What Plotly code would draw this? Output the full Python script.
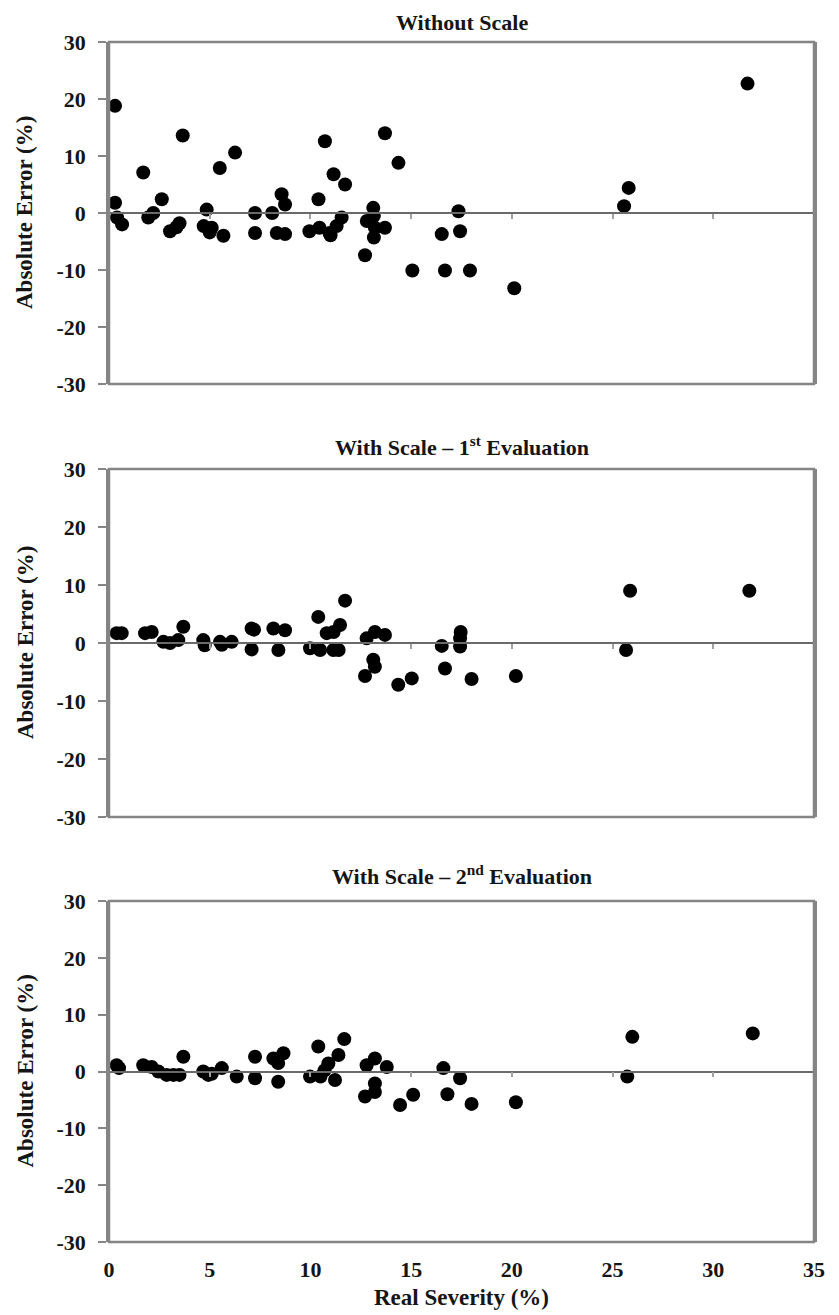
import plotly.graph_objects as go

# ---------------- data ----------------
panel_titles = ["Without Scale",
                "With Scale – 1<sup>st</sup> Evaluation",
                "With Scale – 2<sup>nd</sup> Evaluation"]
x_title = "Real Severity (%)"
y_title = "Absolute Error (%)"
y_ticks = [-30, -20, -10, 0, 10, 20, 30]
y_tick_labels = ["-30", "-20", "-10", "0", "10", "20", "30"]
x_ticks = [0, 5, 10, 15, 20, 25, 30, 35]
x_tick_labels = ["0", "5", "10", "15", "20", "25", "30", "35"]

# Without Scale
x_without = [0.3, 0.3, 0.4, 0.65, 1.7, 1.95, 2.2, 2.62, 3.03, 3.35, 3.5, 3.66,
             4.7, 4.85, 5.0, 5.1, 5.5, 5.68, 6.26, 7.25, 7.25, 8.1, 8.33, 8.57,
             8.74, 8.74, 9.95, 10.4, 10.45, 10.72, 10.95, 11.0, 11.15, 11.3, 11.55, 11.72,
             12.71, 12.8, 13.12, 13.15, 13.2, 13.15, 13.7, 13.7, 14.37, 15.06, 16.52, 16.68,
             17.35, 17.43, 17.92, 20.12, 25.57, 25.8, 31.7]
y_without = [18.8, 1.8, -0.8, -2.0, 7.1, -0.8, 0.0, 2.4, -3.2, -2.5, -1.8, 13.6,
             -2.3, 0.6, -3.4, -2.6, 7.9, -4.0, 10.6, 0.0, -3.5, 0.0, -3.5, 3.3,
             1.5, -3.7, -3.2, 2.4, -2.6, 12.6, -3.5, -3.9, 6.8, -2.3, -0.8, 5.0,
             -7.4, -1.4, 0.9, -0.5, -2.6, -4.3, 14.0, -2.6, 8.8, -10.1, -3.7, -10.1,
             0.3, -3.2, -10.1, -13.2, 1.2, 4.4, 22.7]

# With Scale - 1st evaluation
x_first = [0.38, 0.63, 1.79, 2.12, 2.7, 3.03, 3.44, 3.69, 4.68, 4.75, 5.51, 5.6,
           6.09, 7.08, 7.2, 7.08, 8.16, 8.74, 8.41, 9.98, 10.39, 10.48, 10.81, 11.15,
           11.14, 11.4, 11.47, 11.72, 12.71, 12.79, 13.12, 13.2, 13.2, 13.7, 14.36, 15.03,
           16.52, 16.68, 17.43, 17.46, 17.43, 18.0, 20.2, 25.67, 25.87, 31.79]
y_first = [1.7, 1.7, 1.7, 1.9, 0.2, 0.0, 0.5, 2.8, 0.5, -0.4, 0.2, -0.3,
           0.2, 2.5, 2.3, -1.1, 2.5, 2.2, -1.2, -0.9, 4.5, -1.2, 1.7, 1.9,
           -1.2, -1.2, 3.1, 7.3, -5.7, 0.8, -2.9, 1.9, -4.1, 1.4, -7.2, -6.1,
           -0.5, -4.4, 0.8, 1.9, -0.6, -6.2, -5.7, -1.2, 9.0, 9.0]

# With Scale - 2nd evaluation
x_second = [0.38, 0.5, 1.7, 2.12, 2.45, 2.86, 3.2, 3.5, 3.69, 4.68, 4.93, 5.1,
            5.6, 6.34, 7.25, 7.25, 8.16, 8.66, 8.4, 8.4, 9.98, 10.39, 10.5, 10.7,
            10.89, 11.22, 11.39, 11.68, 12.71, 12.79, 13.2, 13.2, 13.2, 13.79, 14.45, 15.1,
            16.6, 16.8, 17.43, 18.0, 20.2, 25.73, 25.98, 31.96]
y_second = [1.1, 0.6, 1.1, 0.8, 0.0, -0.6, -0.6, -0.6, 2.6, 0.0, -0.6, -0.4,
            0.6, -0.9, 2.6, -1.2, 2.3, 3.2, 1.5, -1.8, -0.9, 4.4, -0.9, 0.2,
            1.4, -1.5, 2.9, 5.7, -4.4, 1.1, 2.3, -2.1, -3.6, 0.8, -5.9, -4.1,
            0.6, -4.0, -1.2, -5.7, -5.4, -0.9, 6.1, 6.7]

# ---------------- layout ----------------
OFF = 8  # default page margin of the HTML body
W, H = 839 - OFF, 1315 - OFF
FONT = "Liberation Serif"
FRAME = "#858585"
INK = "#151515"


def px_x(v):
    return (v - OFF) / W


def px_y(v):
    return 1 - (v - OFF) / H


x_dom = [px_x(109), px_x(814)]
panels_px = [(42, 384), (469, 817), (901, 1242)]  # top, bottom in page px
y_doms = [[px_y(b), px_y(t)] for t, b in panels_px]
title_y_px = [22, 446, 875]

series = [(x_without, y_without), (x_first, y_first), (x_second, y_second)]

fig = go.Figure()
layout = dict(width=W, height=H, margin=dict(l=0, r=0, t=0, b=0, autoexpand=False),
              paper_bgcolor="white", plot_bgcolor="white", showlegend=False,
              annotations=[], shapes=[])

tickfont = dict(family=FONT, size=22, color=INK, weight="bold")

for i, ((xs, ys), dom) in enumerate(zip(series, y_doms)):
    n = i + 1
    sfx = "" if n == 1 else str(n)
    zero_pos = (dom[0] + dom[1]) / 2
    bottom = (n == 3)
    # x axis drawn along y = 0 (the zero line with small ticks)
    layout["xaxis" + sfx] = dict(
        domain=x_dom, range=[0, 35], anchor="free", position=zero_pos,
        showline=True, linecolor="#6a6a6a", linewidth=1.5,
        ticks="outside", ticklen=5, tickwidth=1.5, tickcolor="#a0a0a0",
        tickvals=x_ticks, ticktext=x_tick_labels,
        showticklabels=bottom, tickfont=tickfont,
        ticklabelstandoff=173 if bottom else 0,
        showgrid=False, zeroline=False, fixedrange=True, automargin=False)
    layout["yaxis" + sfx] = dict(
        domain=dom, range=[-30, 30], anchor="x" + sfx, showline=True,
        mirror=True, linecolor=FRAME, linewidth=2.5,
        ticks="outside", ticklen=8, tickwidth=2, tickcolor=FRAME,
        tickvals=y_ticks, ticktext=y_tick_labels, tickfont=tickfont,
        ticklabelstandoff=8,
        showgrid=False, zeroline=False, fixedrange=True, automargin=False)
    # plot frame
    layout["shapes"].append(dict(
        type="rect", xref=f"x{sfx} domain", yref=f"y{sfx} domain",
        x0=0, x1=1, y0=0, y1=1, line=dict(color=FRAME, width=2.5), layer="above"))

    fig.add_trace(go.Scatter(x=xs, y=ys, xaxis="x" + sfx, yaxis="y" + sfx,
                             mode="markers", marker=dict(size=14, color="black"),
                             cliponaxis=False, hoverinfo="x+y"))

    layout["annotations"].append(dict(
        text=f"<b>{panel_titles[i]}</b>", xref="paper", yref="paper",
        x=(x_dom[0] + x_dom[1]) / 2, y=px_y(title_y_px[i]),
        xanchor="center", yanchor="middle", showarrow=False,
        font=dict(family=FONT, size=22, color=INK)))
    layout["annotations"].append(dict(
        text=f"<b>{y_title}</b>", xref="paper", yref="paper",
        x=px_x(25), y=(dom[0] + dom[1]) / 2, textangle=-90,
        xanchor="center", yanchor="middle", showarrow=False,
        font=dict(family=FONT, size=23, color=INK)))

layout["annotations"].append(dict(
    text=f"<b>{x_title}</b>", xref="paper", yref="paper",
    x=(x_dom[0] + x_dom[1]) / 2, y=px_y(1297),
    xanchor="center", yanchor="middle", showarrow=False,
    font=dict(family=FONT, size=23, color=INK)))

fig.update_layout(**layout)
fig.write_html("out.html")
